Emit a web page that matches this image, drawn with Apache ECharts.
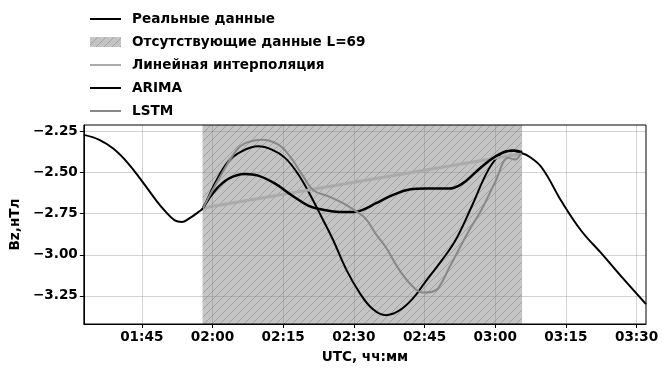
<!DOCTYPE html>
<html>
<head>
<meta charset="utf-8">
<script src="https://cdn.jsdelivr.net/npm/echarts@6/dist/echarts.min.js"></script>
<style>html,body{margin:0;padding:0;background:#fff;}#c{width:672px;height:369px;}</style>
</head>
<body>
<div id="c"></div>
<script>
// time in minutes since 00:00 UTC
const realT = [92.7, 96, 99, 102, 105, 108, 110, 112, 113.5, 115, 117, 118, 120.6, 123.4, 126.2, 129.7, 132.6, 135.4, 138.2, 141, 143.5, 145.6, 148.4, 151.2, 154, 156.8, 159.6, 162.4, 165.3, 168.5, 171.6, 175.1, 178.6, 181.4, 183.5, 185.5, 187.1, 189.9, 194.1, 198.3, 202.5, 206.7, 212];
const realV = [-2.27, -2.30, -2.355, -2.44, -2.55, -2.667, -2.736, -2.79, -2.80, -2.78, -2.74, -2.715, -2.56, -2.43, -2.37, -2.34, -2.36, -2.41, -2.51, -2.65, -2.79, -2.91, -3.09, -3.23, -3.33, -3.367, -3.34, -3.27, -3.16, -3.04, -2.91, -2.70, -2.48, -2.38, -2.365, -2.38, -2.40, -2.47, -2.676, -2.855, -2.99, -3.13, -3.30];

const linT = [118, 185.5];
const linV = [-2.715, -2.385];

const arimaT = [118, 120.6, 123.4, 126.9, 129.7, 133.3, 136.8, 140.3, 143.5, 147, 150, 152, 154.7, 158.2, 161.8, 165.3, 170.2, 173, 175.8, 178.6, 181.5, 184, 185.7];
const arimaV = [-2.715, -2.607, -2.537, -2.508, -2.518, -2.567, -2.637, -2.70, -2.726, -2.74, -2.74, -2.725, -2.686, -2.637, -2.603, -2.597, -2.597, -2.567, -2.498, -2.43, -2.38, -2.365, -2.375];

const lstmT = [118, 121.7, 125.5, 128, 130.5, 134, 136.4, 139.2, 141.4, 144.9, 147.7, 150.5, 152.5, 154.7, 156.8, 159.6, 162.4, 164.6, 166.7, 168, 170.4, 174.4, 177.2, 180, 182.8, 184.2, 185.5];
const lstmV = [-2.715, -2.52, -2.35, -2.31, -2.30, -2.33, -2.40, -2.52, -2.607, -2.647, -2.686, -2.736, -2.78, -2.875, -2.954, -3.09, -3.19, -3.23, -3.225, -3.2, -3.07, -2.855, -2.72, -2.557, -2.41, -2.42, -2.38];

const gapRange = [117.9, 185.7];
const xTicks = [105, 120, 135, 150, 165, 180, 195, 210];
const yTicks = [-3.25, -3.0, -2.75, -2.5, -2.25];
const xRange = [92.7, 212];
const yRange = [-3.421, -2.21];

const names = ['Реальные данные', 'Отсутствующие данные L=69', 'Линейная интерполяция', 'ARIMA', 'LSTM'];

function pairs(t, v) { return t.map((x, i) => [x, v[i]]); }
function hhmm(m) {
  const h = Math.floor(m / 60), mm = Math.round(m - h * 60);
  return String(h).padStart(2, '0') + ':' + String(mm).padStart(2, '0');
}

// hatch pattern
const pc = document.createElement('canvas');
pc.width = 8; pc.height = 8;
const ctx = pc.getContext('2d');
ctx.fillStyle = '#c4c4c4';
ctx.fillRect(0, 0, 8, 8);
ctx.strokeStyle = '#a2a2a2';
ctx.lineWidth = 1;
ctx.beginPath();
ctx.moveTo(0, 8); ctx.lineTo(8, 0);
ctx.moveTo(-1, 1); ctx.lineTo(1, -1);
ctx.moveTo(7, 9); ctx.lineTo(9, 7);
ctx.stroke();
const hatch = { image: pc, repeat: 'repeat' };

const FONT = 'DejaVu Sans';
const chart = echarts.init(document.getElementById('c'), null, { renderer: 'canvas' });
chart.setOption({
  animation: false,
  backgroundColor: '#fff',
  textStyle: { fontFamily: FONT },
  grid: { left: 83, right: 26, top: 125, bottom: 41, show: true, borderColor: '#000', borderWidth: 1, z: 10, backgroundColor: 'transparent' },
  legend: {
    orient: 'vertical', left: 84, top: 7, itemWidth: 31, itemHeight: 10, itemGap: 9,
    itemStyle: { opacity: 0 },
    textStyle: { fontFamily: FONT, fontWeight: 'bold', fontSize: 13.6, color: '#000', lineHeight: 14, padding: [0, 0, 0, 6] },
    data: [
      { name: names[0] },
      { name: names[1], icon: 'rect', itemStyle: { color: hatch, opacity: 1 } },
      { name: names[2] },
      { name: names[3] },
      { name: names[4] }
    ]
  },
  xAxis: {
    type: 'value', min: xRange[0], max: xRange[1], z: 2,
    name: 'UTC, чч:мм', nameLocation: 'middle', nameGap: 26,
    nameTextStyle: { fontFamily: FONT, fontWeight: 'bold', fontSize: 13.6, color: '#000' },
    axisLine: { lineStyle: { color: '#000', width: 1 } },
    axisTick: { show: true, customValues: xTicks, length: 4, lineStyle: { color: '#000' } },
    axisLabel: { customValues: xTicks, formatter: v => hhmm(v), fontFamily: FONT, fontWeight: 'bold', fontSize: 13.6, color: '#000', margin: 6 },
    splitLine: { show: true, lineStyle: { color: 'rgba(128,128,128,0.35)', width: 1 } }
  },
  yAxis: {
    type: 'value', min: yRange[0], max: yRange[1], z: 2,
    name: 'Bz,нТл', nameLocation: 'middle', nameGap: 49, nameRotate: 90,
    nameTextStyle: { fontFamily: FONT, fontWeight: 'bold', fontSize: 13.6, color: '#000' },
    axisLine: { show: true, lineStyle: { color: '#000', width: 1 } },
    axisTick: { show: true, customValues: yTicks, length: 4, lineStyle: { color: '#000' } },
    axisLabel: { customValues: yTicks, formatter: v => v.toFixed(2).replace('-', '\u2212'), fontFamily: FONT, fontWeight: 'bold', fontSize: 13.6, color: '#000', margin: 6 },
    splitLine: { show: true, lineStyle: { color: 'rgba(128,128,128,0.35)', width: 1 } }
  },
  series: [
    {
      name: names[0], type: 'line', z: 3, symbol: 'none', smooth: 0.4,
      lineStyle: { color: '#000', width: 2 }, itemStyle: { color: '#000' },
      data: pairs(realT, realV)
    },
    {
      name: names[1], type: 'line', z: 1, symbol: 'none', data: [],
      itemStyle: { color: hatch }, lineStyle: { color: '#c4c4c4', width: 0 },
      markArea: { silent: true, z: 1, itemStyle: { color: hatch, borderWidth: 0 }, data: [[{ xAxis: gapRange[0] }, { xAxis: gapRange[1] }]] }
    },
    {
      name: names[2], type: 'line', z: 3, symbol: 'none',
      lineStyle: { color: '#aaaaaa', width: 3 }, itemStyle: { color: '#aaaaaa' },
      data: pairs(linT, linV)
    },
    {
      name: names[3], type: 'line', z: 3, symbol: 'none', smooth: 0.4,
      lineStyle: { color: '#000', width: 2.5 }, itemStyle: { color: '#000' },
      data: pairs(arimaT, arimaV)
    },
    {
      name: names[4], type: 'line', z: 3, symbol: 'none', smooth: 0.4,
      lineStyle: { color: '#888888', width: 2 }, itemStyle: { color: '#888888' },
      data: pairs(lstmT, lstmV)
    }
  ]
});
</script>
</body>
</html>
